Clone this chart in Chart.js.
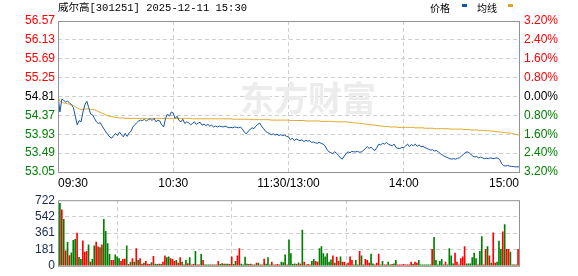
<!DOCTYPE html>
<html>
<head>
<meta charset="utf-8">
<script src="https://cdn.jsdelivr.net/npm/chart.js@4.4.1/dist/chart.umd.min.js"></script>
<style>
  html, body { margin: 0; padding: 0; background: #fff; }
  #wrap { position: relative; width: 578px; height: 276px; }
  #priceChart { position: absolute; left: 0; top: 0; }
  #volChart { position: absolute; left: 0; top: 190px; }
</style>
</head>
<body>
<div id="wrap">
  <canvas id="priceChart" width="578" height="190"></canvas>
  <canvas id="volChart" width="578" height="86"></canvas>
</div>
<script>
// 威尔高 301251, 2025-12-11, one point per minute (241)
var title = '威尔高[301251] 2025-12-11 15:30';
var prevClose = 54.81;

var price = [
  54.83, 54.45, 54.75, 54.72, 54.68, 54.70, 54.66, 54.62, 54.55, 54.35,
  54.15, 54.25, 54.22, 54.45, 54.62, 54.70, 54.55, 54.40, 54.38, 54.30,
  54.22, 54.18, 54.20, 54.12, 54.05, 53.98, 53.92, 53.86, 53.84, 53.90,
  53.95, 53.90, 53.98, 53.92, 53.87, 53.95, 53.88, 53.96, 54.00, 54.10,
  54.15, 54.20, 54.24, 54.26, 54.25, 54.28, 54.24, 54.27, 54.29, 54.25,
  54.30, 54.22, 54.26, 54.24, 54.15, 54.10, 54.30, 54.40, 54.35, 54.45,
  54.42, 54.30, 54.35, 54.25, 54.22, 54.28, 54.18, 54.22, 54.20, 54.15,
  54.18, 54.22, 54.16, 54.19, 54.21, 54.14, 54.17, 54.13, 54.16, 54.12,
  54.14, 54.10, 54.12, 54.10, 54.12, 54.11, 54.10, 54.12, 54.10, 54.08,
  54.09, 54.08, 54.10, 54.09, 54.08, 54.10, 54.05, 53.98, 53.94, 54.00,
  54.04, 54.08, 54.06, 54.12, 54.16, 54.19, 54.12, 54.06, 54.00, 53.97,
  53.95, 53.92, 53.94, 53.91, 53.93, 53.90, 53.92, 53.90, 53.91, 53.88,
  53.87, 53.80, 53.84, 53.78, 53.82, 53.80, 53.78, 53.80, 53.76, 53.79,
  53.77, 53.78, 53.74, 53.75, 53.73, 53.72, 53.74, 53.72, 53.70, 53.66,
  53.58, 53.52, 53.50, 53.48, 53.52, 53.49, 53.44, 53.38, 53.35, 53.42,
  53.48, 53.52, 53.50, 53.53, 53.52, 53.52, 53.53, 53.51, 53.52, 53.55,
  53.60, 53.64, 53.60, 53.63, 53.58, 53.55, 53.62, 53.70, 53.68, 53.72,
  53.70, 53.74, 53.70, 53.68, 53.66, 53.70, 53.62, 53.60, 53.60, 53.62,
  53.62, 53.66, 53.70, 53.64, 53.69, 53.66, 53.70, 53.65, 53.68, 53.64,
  53.65, 53.62, 53.60, 53.58, 53.56, 53.57, 53.54, 53.55, 53.52, 53.48,
  53.45, 53.42, 53.40, 53.38, 53.36, 53.35, 53.36, 53.35, 53.37, 53.38,
  53.42, 53.46, 53.50, 53.52, 53.50, 53.46, 53.42, 53.40, 53.41, 53.38,
  53.40, 53.38, 53.36, 53.37, 53.36, 53.38, 53.37, 53.36, 53.38, 53.37,
  53.34, 53.24, 53.20, 53.19, 53.20, 53.19, 53.18, 53.18, 53.17, 53.17,
  53.17
];

var avgPrice = [
  54.80, 54.70, 54.68, 54.66, 54.65, 54.64, 54.63, 54.62, 54.60, 54.57,
  54.54, 54.52, 54.51, 54.51, 54.52, 54.52, 54.52, 54.51, 54.51, 54.50,
  54.48, 54.46, 54.44, 54.42, 54.40, 54.38, 54.36, 54.35, 54.34, 54.33,
  54.32, 54.32, 54.31, 54.31, 54.31, 54.30, 54.30, 54.30, 54.30, 54.30,
  54.30, 54.30, 54.30, 54.30, 54.30, 54.30, 54.30, 54.30, 54.30, 54.30,
  54.30, 54.30, 54.30, 54.30, 54.30, 54.30, 54.30, 54.30, 54.30, 54.30,
  54.30, 54.30, 54.30, 54.30, 54.30, 54.30, 54.30, 54.30, 54.30, 54.30,
  54.29, 54.29, 54.29, 54.29, 54.29, 54.29, 54.29, 54.29, 54.29, 54.29,
  54.29, 54.29, 54.29, 54.29, 54.29, 54.29, 54.29, 54.29, 54.29, 54.29,
  54.29, 54.28, 54.28, 54.28, 54.28, 54.28, 54.28, 54.28, 54.28, 54.28,
  54.28, 54.27, 54.27, 54.27, 54.27, 54.27, 54.27, 54.27, 54.27, 54.27,
  54.27, 54.26, 54.26, 54.26, 54.26, 54.26, 54.26, 54.26, 54.26, 54.26,
  54.26, 54.25, 54.25, 54.25, 54.25, 54.25, 54.25, 54.25, 54.25, 54.24,
  54.24, 54.24, 54.24, 54.24, 54.24, 54.24, 54.24, 54.23, 54.23, 54.23,
  54.23, 54.23, 54.23, 54.23, 54.22, 54.22, 54.22, 54.22, 54.22, 54.22,
  54.22, 54.21, 54.21, 54.20, 54.20, 54.19, 54.19, 54.18, 54.18, 54.17,
  54.17, 54.16, 54.16, 54.15, 54.15, 54.14, 54.13, 54.13, 54.12, 54.12,
  54.11, 54.11, 54.11, 54.10, 54.10, 54.10, 54.10, 54.09, 54.09, 54.09,
  54.09, 54.09, 54.09, 54.09, 54.09, 54.09, 54.08, 54.08, 54.08, 54.08,
  54.08, 54.07, 54.07, 54.07, 54.07, 54.07, 54.06, 54.06, 54.06, 54.06,
  54.06, 54.06, 54.06, 54.06, 54.05, 54.05, 54.05, 54.05, 54.05, 54.05,
  54.05, 54.04, 54.04, 54.04, 54.04, 54.03, 54.03, 54.03, 54.03, 54.02,
  54.02, 54.02, 54.02, 54.01, 54.01, 54.01, 54.00, 54.00, 53.99, 53.99,
  53.98, 53.98, 53.97, 53.97, 53.96, 53.96, 53.95, 53.94, 53.93, 53.92,
  53.91
];

var volume = [
  688, 615, 511, 165, 257, 112, 142, 279, 292, 359,
  92, 70, 275, 150, 160, 232, 42, 70, 220, 260,
  210, 200, 230, 511, 380, 245, 125, 60, 60, 120,
  100, 80, 50, 70, 75, 220, 15, 40, 80, 40,
  190, 60, 80, 20, 30, 50, 20, 15, 35, 105,
  20, 15, 20, 15, 40, 110, 90, 100, 80, 70,
  50, 60, 30, 90, 40, 10, 60, 25, 90, 10,
  15, 160, 10, 10, 125, 60, 10, 10, 10, 10,
  10, 10, 10, 50, 15, 25, 20, 20, 20, 15,
  100, 15, 50, 110, 190, 20, 10, 95, 20, 15,
  20, 10, 10, 30, 30, 10, 10, 75, 20, 90,
  10, 40, 10, 10, 15, 10, 40, 35, 120, 10,
  285,
  134, 17, 23, 15, 34, 20, 393, 40, 10, 15,
  10, 50, 70, 50, 40, 190, 212, 134, 100, 134,
  40, 67, 110, 30, 97, 50, 100, 40, 40, 10,
  30, 100, 60, 10, 60, 10, 160, 110, 10, 70,
  60, 30, 130, 23, 10, 30, 130, 10, 50, 10,
  10, 40, 10, 15, 23, 60, 10, 10, 10, 15,
  10, 10, 10, 40, 15, 40, 30, 60, 10, 10,
  10, 10, 10, 10, 181, 312, 60, 10, 50, 70,
  10, 40, 10, 190, 110, 23, 140, 40, 10, 80,
  100, 212, 23, 23, 23, 90, 140, 80, 10, 160,
  322, 10, 181, 212, 110, 30, 363, 30, 40, 272,
  181, 373, 453, 181, 181, 151, 10, 10, 10, 181
];

// 1 = up minute (red), 0 = down minute (green)
var volUp = [
  0,1,0,1,0,1,0,0,0,1,
  0,0,1,1,1,0,1,0,0,1,
  1,0,1,0,0,0,0,1,1,0,
  0,0,1,1,1,0,1,0,1,0,
  1,0,1,1,0,1,1,1,0,1,
  0,0,1,0,1,1,0,0,1,1,
  1,0,1,1,0,1,0,1,0,1,
  1,0,1,1,0,1,0,0,0,1,
  0,1,0,1,0,0,1,0,0,1,
  1,0,0,1,1,0,0,0,0,1,
  0,1,0,1,0,1,0,1,0,0,
  0,1,0,1,1,1,0,0,0,1,
  0,
  0,0,0,1,0,1,0,1,0,1,
  1,0,0,1,1,0,0,0,0,0,
  0,0,1,0,1,1,0,1,1,0,
  1,1,1,0,0,0,1,0,0,1,
  1,1,0,0,1,1,1,0,0,1,
  1,0,0,1,0,0,1,1,1,1,
  1,1,1,1,0,1,1,0,0,0,
  0,0,0,0,1,0,0,0,0,0,
  0,1,0,0,0,0,1,1,0,1,
  1,1,0,0,0,0,0,0,1,0,
  0,1,1,0,1,0,1,1,0,0,
  0,1,0,1,1,0,0,1,0,1
];

var priceTicks = [53.05, 53.49, 53.93, 54.37, 54.81, 55.25, 55.69, 56.13, 56.57];
var pctTicks = [-3.2, -2.4, -1.6, -0.8, 0, 0.8, 1.6, 2.4, 3.2];
var volTicks = [0, 181, 361, 542, 722];
var timeTicks = [0, 60, 120, 180, 240];
var timeLabels = ['09:30', '10:30', '11:30/13:00', '14:00', '15:00'];

var RED = '#ff0000';
var GREEN = '#008000';
var GRID = '#cfcfcf';
var tickFont = { family: "'Liberation Sans', Arial, sans-serif", size: 12 };

function toPoints(arr) {
    return arr.map(function(v, i) { return { x: i, y: v }; });
}

function innerGrid(ctx) {
    var n = ctx.scale.ticks.length;
    return (ctx.index > 0 && ctx.index < n - 1) ? GRID : 'rgba(0,0,0,0)';
}

// gray box round the plot area
var frame = {
    id: 'frame',
    afterDraw: function(chart) {
        var a = chart.chartArea, c = chart.ctx;
        c.save();
        c.strokeStyle = '#939393';
        c.lineWidth = 1;
        c.strokeRect(a.left + 0.5, a.top + 0.5, a.right - a.left, a.bottom - a.top);
        c.restore();
    }
};

var watermark = {
    id: 'watermark',
    beforeDatasetsDraw: function(chart) {
        var c = chart.ctx;
        c.save();
        c.fillStyle = '#ececec';
        c.font = "bold 34px 'Noto Sans CJK SC'";
        c.textBaseline = 'middle';
        c.fillText('东方财富', 240, 98);
        c.restore();
    }
};

var header = {
    id: 'header',
    afterDraw: function(chart) {
        var c = chart.ctx;
        c.save();
        c.fillStyle = '#000';
        c.textBaseline = 'middle';
        c.font = "10.5px 'Liberation Mono', 'Noto Sans CJK SC'";
        c.fillText(title, 58, 8);
        c.font = "10px 'Noto Sans CJK SC'";
        c.fillText('价格', 430, 8);
        c.fillText('均线', 477, 8);
        c.fillStyle = '#1554a6';
        c.fillRect(462, 4, 5, 3);
        c.fillStyle = '#e0a526';
        c.fillRect(508, 4, 5, 3);
        c.restore();
    }
};

var priceChart = new Chart(document.getElementById('priceChart').getContext('2d'), {
    type: 'line',
    data: {
        datasets: [{
            label: '价格',
            data: toPoints(price),
            borderColor: '#1554a6',
            borderWidth: 1,
            pointRadius: 0,
            tension: 0,
            yAxisID: 'y'
        }, {
            label: '均线',
            data: toPoints(avgPrice),
            borderColor: '#e0a526',
            borderWidth: 1,
            pointRadius: 0,
            tension: 0,
            yAxisID: 'y'
        }]
    },
    options: {
        responsive: false,
        animation: false,
        events: [],
        layout: { padding: { top: 21 } },
        plugins: { legend: { display: false }, tooltip: { enabled: false } },
        scales: {
            x: {
                type: 'linear',
                min: 0,
                max: 240,
                afterBuildTicks: function(s) { s.ticks = timeTicks.map(function(v) { return { value: v }; }); },
                afterFit: function(s) { s.height = 18; },
                ticks: {
                    callback: function(v, i) { return timeLabels[i]; },
                    align: 'inner',
                    autoSkip: false,
                    maxRotation: 0,
                    padding: 4,
                    color: '#000',
                    font: tickFont
                },
                grid: { color: innerGrid, drawTicks: false },
                border: { display: false, dash: [4, 3] }
            },
            y: {
                position: 'left',
                min: priceTicks[0],
                max: priceTicks[priceTicks.length - 1],
                afterBuildTicks: function(s) { s.ticks = priceTicks.map(function(v) { return { value: v }; }); },
                afterFit: function(s) { s.width = 58; },
                ticks: {
                    callback: function(v) { return v.toFixed(2); },
                    autoSkip: false,
                    padding: 3,
                    font: tickFont,
                    color: function(ctx) {
                        var v = ctx.tick.value;
                        if (Math.abs(v - prevClose) < 0.001) return '#000';
                        return v > prevClose ? RED : GREEN;
                    }
                },
                grid: { color: innerGrid, drawTicks: false },
                border: { display: false, dash: [4, 3] }
            },
            y2: {
                position: 'right',
                min: -3.2,
                max: 3.2,
                afterBuildTicks: function(s) { s.ticks = pctTicks.map(function(v) { return { value: v }; }); },
                afterFit: function(s) { s.width = 59; },
                ticks: {
                    callback: function(v) { return Math.abs(v).toFixed(2) + '%'; },
                    autoSkip: false,
                    padding: 5,
                    font: tickFont,
                    color: function(ctx) {
                        var v = ctx.tick.value;
                        if (Math.abs(v) < 0.001) return '#000';
                        return v > 0 ? RED : GREEN;
                    }
                },
                grid: { display: false, drawTicks: false },
                border: { display: false }
            }
        }
    },
    plugins: [watermark, frame, header]
});

var volChart = new Chart(document.getElementById('volChart').getContext('2d'), {
    type: 'bar',
    data: {
        datasets: [{
            data: toPoints(volume),
            backgroundColor: volUp.map(function(u) { return u ? RED : GREEN; }),
            barThickness: 1,
            borderWidth: 0
        }]
    },
    options: {
        responsive: false,
        animation: false,
        events: [],
        layout: { padding: { top: 7, right: 59, bottom: 6 } },
        plugins: { legend: { display: false }, tooltip: { enabled: false } },
        scales: {
            x: {
                type: 'linear',
                min: -1,
                max: 240.5,
                offset: false,
                afterBuildTicks: function(s) { s.ticks = timeTicks.map(function(v) { return { value: v }; }); },
                afterFit: function(s) { s.height = 0; },
                ticks: { display: false },
                grid: {
                    color: function(ctx) { return (ctx.index > 0 && ctx.index < timeTicks.length - 1) ? GRID : 'rgba(0,0,0,0)'; },
                    drawTicks: false
                },
                border: { display: false, dash: [4, 3] }
            },
            y: {
                position: 'left',
                min: 0,
                max: volTicks[volTicks.length - 1],
                afterBuildTicks: function(s) { s.ticks = volTicks.map(function(v) { return { value: v }; }); },
                afterFit: function(s) { s.width = 58; },
                ticks: { autoSkip: false, padding: 3, font: tickFont, color: '#1b2a4a' },
                grid: { color: innerGrid, drawTicks: false },
                border: { display: false, dash: [4, 3] }
            }
        }
    },
    plugins: [frame]
});
</script>
</body>
</html>
